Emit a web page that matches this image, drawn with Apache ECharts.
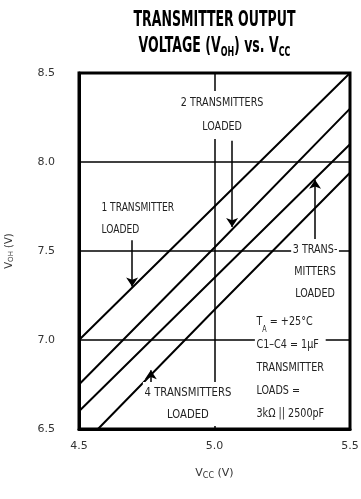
<!DOCTYPE html>
<html>
<head>
<meta charset="utf-8">
<script src="https://cdn.jsdelivr.net/npm/echarts@6/dist/echarts.min.js"></script>
<style>
  html, body { margin: 0; padding: 0; background: #fff; }
  #chart { width: 361px; height: 499px; }
</style>
</head>
<body>
<div id="chart"></div>
<script>
// Axis ranges and tick steps
const vccTicks = [4.5, 5.0, 5.5];
const vohTicks = [6.5, 7.0, 7.5, 8.0, 8.5];

// V_OH vs V_CC curves, [Vcc, Voh]
const oneLoaded   = [[4.5, 7.00], [5.0, 7.75], [5.5, 8.50]];
const twoLoaded   = [[4.5, 6.75], [5.0, 7.52], [5.5, 8.30]];
const threeLoaded = [[4.5, 6.60], [5.0, 7.35], [5.5, 8.10]];
const fourLoaded  = [[4.57, 6.50], [5.0, 7.17], [5.5, 7.94]];

// Pointer arrows: [Vcc, Voh from, Voh to]
const arrows = [
  [4.696, 7.56, 7.30],
  [5.065, 8.12, 7.635],
  [5.371, 7.556, 7.90],
  [4.765, 6.745, 6.83]
];

// Callout texts anchored in data units (top edge of the block)
const notes = [
  { lines: ['1 TRANSMITTER', 'LOADED'], at: [4.577, 7.803], align: 'left', lh: 22, sx: 0.76, mask: false },
  { lines: ['2 TRANSMITTERS', 'LOADED'], at: [5.028, 8.399], align: 'center', lh: 24, sx: 0.8, mask: true },
  { lines: ['3 TRANS-', 'MITTERS', 'LOADED'], at: [5.371, 7.567], align: 'center', lh: 22, sx: 0.8, mask: true },
  { lines: ['{t|T}{s|A}{t| = +25°C}', 'C1–C4 = 1µF', 'TRANSMITTER', 'LOADS =', '3kΩ || 2500pF'], at: [5.149, 7.166], align: 'left', lh: 23, sx: 0.8, mask: true },
  { lines: ['4 TRANSMITTERS', 'LOADED'], at: [4.902, 6.764], align: 'center', lh: 22, sx: 0.84, mask: true }
];

const FONT = "'DejaVu Sans', 'Liberation Sans', sans-serif";

const chart = echarts.init(document.getElementById('chart'), null, { renderer: 'canvas' });

function curve(data) {
  return {
    type: 'line', data: data, symbol: 'none', clip: true, silent: true,
    lineStyle: { color: '#000', width: 2 }, animation: false
  };
}

chart.setOption({
  animation: false,
  backgroundColor: '#fff',
  grid: {
    left: 79, right: 11, top: 73, bottom: 70,
    outerBoundsMode: 'none', containLabel: false,
    show: true, borderColor: '#000', borderWidth: 3, backgroundColor: 'transparent'
  },
  xAxis: {
    type: 'value', min: vccTicks[0], max: vccTicks[vccTicks.length - 1], interval: 0.5,
    name: '{v|V}{s|CC}{v| (V)}', nameLocation: 'middle', nameGap: 38,
    nameTextStyle: {
      rich: {
        v: { fontFamily: FONT, fontSize: 11, color: '#333' },
        s: { fontFamily: FONT, fontSize: 8, color: '#333', verticalAlign: 'bottom', padding: [5, 0, 0, 0] }
      }
    },
    axisLine: { show: true, lineStyle: { color: '#000', width: 3 } },
    axisTick: { show: false },
    axisLabel: { margin: 12, fontFamily: FONT, fontSize: 11, color: '#333', formatter: v => v.toFixed(1) },
    splitLine: { show: true, lineStyle: { color: '#000', width: 1.5 } }
  },
  yAxis: {
    type: 'value', min: vohTicks[0], max: vohTicks[vohTicks.length - 1], interval: 0.5,
    name: '{v|V}{s|OH}{v| (V)}', nameLocation: 'middle', nameGap: 64, nameRotate: 90,
    nameTextStyle: {
      rich: {
        v: { fontFamily: FONT, fontSize: 10, color: '#333' },
        s: { fontFamily: FONT, fontSize: 7, color: '#333', verticalAlign: 'bottom', padding: [5, 0, 0, 0] }
      }
    },
    axisLine: { show: true, lineStyle: { color: '#000', width: 3 } },
    axisTick: { show: false },
    axisLabel: { margin: 24, fontFamily: FONT, fontSize: 11, color: '#333', formatter: v => v.toFixed(1) },
    splitLine: { show: true, lineStyle: { color: '#000', width: 1.5 } }
  },
  series: [
    curve(oneLoaded), curve(twoLoaded), curve(threeLoaded), curve(fourLoaded),
    {
      type: 'line', data: [], silent: true,
      markLine: {
        silent: true, animation: false,
        symbol: ['none', 'arrow'], symbolSize: 9,
        label: { show: false },
        lineStyle: { color: '#000', width: 1.5, type: 'solid' },
        data: arrows.map(a => [{ coord: [a[0], a[1]] }, { coord: [a[0], a[2]] }])
      }
    }
  ]
});

// Condensed heading, centred over the plot
const plotMid = chart.convertToPixel({ gridIndex: 0 }, [(vccTicks[0] + vccTicks[vccTicks.length - 1]) / 2, vohTicks[0]])[0];
const heading = {
  type: 'text', x: plotMid, y: 7, scaleX: 0.57, z: 60, silent: true,
  style: {
    text: '{b|TRANSMITTER OUTPUT}\n{b|VOLTAGE (V}{s|OH}{b|) vs. V}{s|CC}',
    align: 'center', verticalAlign: 'top',
    rich: {
      b: { fontFamily: FONT, fontWeight: 'bold', fontSize: 22, fill: '#000', lineHeight: 26 },
      s: { fontFamily: FONT, fontWeight: 'bold', fontSize: 14, fill: '#000', verticalAlign: 'bottom', padding: [9, 0, 0, 0], lineHeight: 26 }
    }
  }
};

// Callout texts placed through the grid's coordinate system
const callouts = notes.map(n => {
  const p = chart.convertToPixel({ gridIndex: 0 }, n.at);
  return {
    type: 'text', x: p[0], y: p[1], z: 50, silent: true, scaleX: n.sx,
    style: {
      text: n.lines.join('\n'),
      align: n.align, verticalAlign: 'top',
      fontFamily: FONT, fontSize: 12, fill: '#222', lineHeight: n.lh,
      backgroundColor: n.mask ? '#fff' : 'transparent', padding: [0, 2],
      rich: {
        t: { fontFamily: FONT, fontSize: 12, fill: '#222', lineHeight: n.lh },
        s: { fontFamily: FONT, fontSize: 8, fill: '#222', verticalAlign: 'bottom', padding: [4, 0, 0, 0], lineHeight: n.lh }
      }
    }
  };
});
chart.setOption({ graphic: [heading].concat(callouts) });
</script>
</body>
</html>
